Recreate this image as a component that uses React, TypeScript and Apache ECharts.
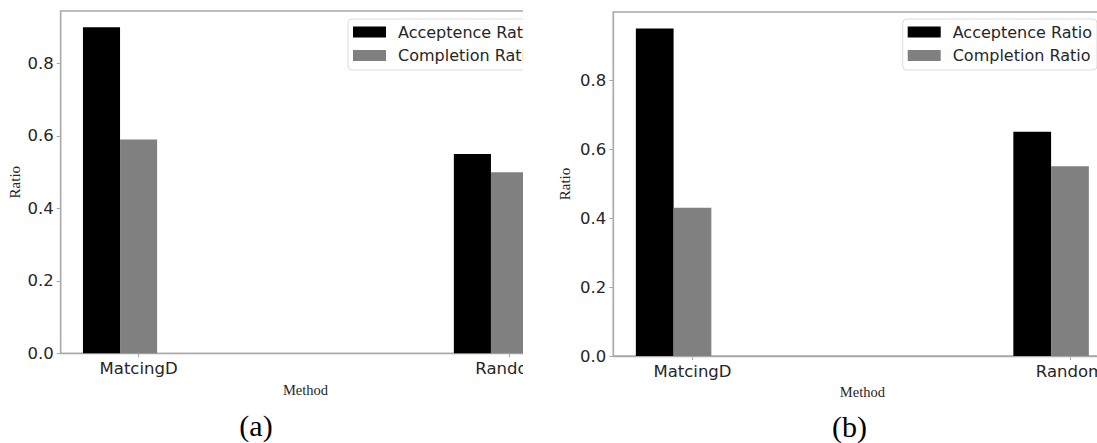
import React, { useEffect, useRef } from "react";
import * as echarts from "echarts";

const categories = ["MatcingD", "Random"];
const seriesNames = ["Acceptence Ratio", "Completion Ratio"];
const acceptanceA = [0.9, 0.55];
const completionA = [0.59, 0.5];
const acceptanceB = [0.95, 0.65];
const completionB = [0.43, 0.55];
const yTicks = [0, 0.2, 0.4, 0.6, 0.8];
const panelLabels = ["(a)", "(b)"];

const BAR_W = 0.1;
const TEXT = "#262626";
const SPINE = "#a9a9a9";
const SANS = "DejaVu Sans";
const SERIF = "Liberation Serif";

function barRender(params: any, api: any) {
  const x = api.value(0);
  const y = api.value(1);
  const p0 = api.coord([x - BAR_W / 2, y]);
  const p1 = api.coord([x + BAR_W / 2, 0]);
  return {
    type: "rect",
    shape: { x: p0[0], y: p0[1], width: p1[0] - p0[0], height: p1[1] - p0[1] },
    style: api.style(),
  };
}

function xAxisFor(gridIndex: number) {
  return {
    type: "value",
    gridIndex,
    min: -0.21,
    max: 1.11,
    name: "Method",
    nameLocation: "middle",
    nameGap: 27,
    nameTextStyle: { fontFamily: SERIF, fontSize: 14.5, color: TEXT },
    axisLine: { show: true, onZero: false, lineStyle: { color: SPINE, width: 1.3 } },
    axisTick: { show: true, length: 4, customValues: [0, 1], lineStyle: { color: SPINE } },
    axisLabel: {
      customValues: [0, 1],
      formatter: (v: number) => categories[Math.round(v)] ?? "",
      fontFamily: SANS,
      fontSize: 16.5,
      color: TEXT,
      margin: 7,
    },
    splitLine: { show: false },
  };
}

function yAxisFor(gridIndex: number, max: number, gap: number) {
  return {
    type: "value",
    gridIndex,
    min: 0,
    max,
    name: "Ratio",
    nameLocation: "middle",
    nameGap: gap,
    nameRotate: 90,
    nameTextStyle: { fontFamily: SERIF, fontSize: 15, color: TEXT },
    axisLine: { show: true, onZero: false, lineStyle: { color: SPINE, width: 1.3 } },
    axisTick: { show: true, length: 4, customValues: yTicks, lineStyle: { color: SPINE } },
    axisLabel: {
      customValues: yTicks,
      formatter: (v: number) => v.toFixed(1),
      fontFamily: SANS,
      fontSize: 16.5,
      color: TEXT,
      margin: 7,
    },
    splitLine: { show: false },
  };
}

function seriesFor(idx: number, acc: number[], comp: number[]) {
  return [
    {
      type: "custom",
      name: seriesNames[0],
      xAxisIndex: idx,
      yAxisIndex: idx,
      itemStyle: { color: "#000000" },
      renderItem: barRender,
      data: acc.map((v, i) => [i - BAR_W, v]),
    },
    {
      type: "custom",
      name: seriesNames[1],
      xAxisIndex: idx,
      yAxisIndex: idx,
      itemStyle: { color: "#808080" },
      renderItem: barRender,
      data: comp.map((v, i) => [i, v]),
    },
  ];
}

function legendFor(left: number) {
  return {
    orient: "vertical",
    left,
    top: 19,
    padding: [5, 5, 6.5, 5],
    itemGap: 7.5,
    itemWidth: 33,
    itemHeight: 11,
    backgroundColor: "#ffffff",
    borderColor: "#dcdcdc",
    borderWidth: 1,
    borderRadius: 4,
    data: seriesNames.map((n) => ({ name: n, icon: "rect" })),
    formatter: (n: string) => "{g|}" + n,
    textStyle: {
      fontFamily: SANS,
      fontSize: 16,
      color: TEXT,
      lineHeight: 16,
      rich: { g: { width: 7 } },
    },
  };
}

export default function App() {
  const ref = useRef<HTMLDivElement>(null);
  useEffect(() => {
    if (!ref.current) return;
    const chart = echarts.init(ref.current, undefined, { renderer: "svg" });
    chart.setOption({
      animation: false,
      backgroundColor: "#ffffff",
      grid: [
        { left: 60.7, top: 11, width: 489.6, height: 342.3, show: true, borderColor: SPINE, borderWidth: 1.3, backgroundColor: "transparent" },
        { left: 613.2, top: 12, width: 498.3, height: 344, show: true, borderColor: SPINE, borderWidth: 1.3, backgroundColor: "transparent" },
      ],
      xAxis: [xAxisFor(0), xAxisFor(1)],
      yAxis: [yAxisFor(0, 0.945, 38), yAxisFor(1, 0.9975, 41)],
      legend: [legendFor(348), legendFor(902.7)],
      series: [...seriesFor(0, acceptanceA, completionA), ...seriesFor(1, acceptanceB, completionB)],
      graphic: {
        z: 100,
        elements: [
          { type: "rect", z: 100, shape: { x: 523, y: 0, width: 33, height: 443 }, style: { fill: "#ffffff" } },
          { type: "text", z: 101, x: 256, y: 425, style: { text: panelLabels[0], fontFamily: SERIF, fontSize: 30, fill: "#000", align: "center", verticalAlign: "middle" } },
          { type: "text", z: 101, x: 849.6, y: 426, style: { text: panelLabels[1], fontFamily: SERIF, fontSize: 30, fill: "#000", align: "center", verticalAlign: "middle" } },
        ],
      },
    });
    return () => chart.dispose();
  }, []);
  return (
    <div style={{ position: "absolute", left: 0, top: 0, width: 1097, height: 443, overflow: "hidden", background: "#fff" }}>
      <div ref={ref} style={{ width: 1200, height: 443 }} />
    </div>
  );
}
